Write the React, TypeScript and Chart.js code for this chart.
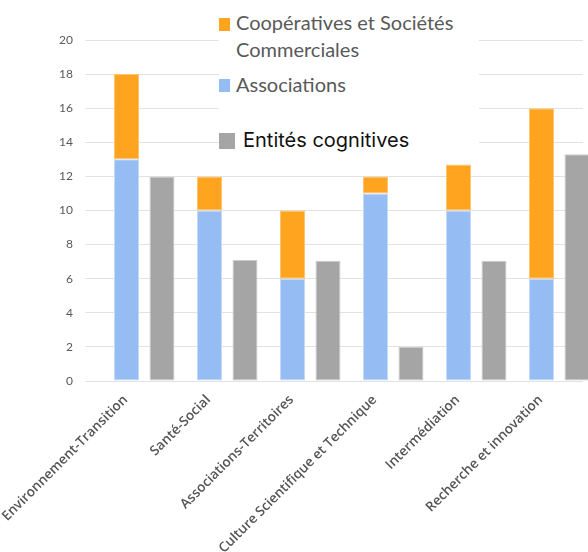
import React, { useEffect, useRef } from "react";
import { Chart, registerables } from "chart.js";

Chart.register(...registerables);

const categories = [
  "Environnement-Transition",
  "Santé-Social",
  "Associations-Territoires",
  "Culture Scientifique et Technique",
  "Intermédiation",
  "Recherche et innovation",
];
const associations = [13, 10, 6, 11, 10, 6];
const cooperatives = [5, 2, 4, 1, 2.7, 10];
const entitesCognitives = [12, 7.1, 7.05, 2, 7.05, 13.3];
const spacer = [0, 0, 0, 0, 0, 0];
const yTicks = [0, 2, 4, 6, 8, 10, 12, 14, 16, 18, 20];

const W = 588;
const H = 552;

export default function App() {
  const ref = useRef<HTMLCanvasElement | null>(null);

  useEffect(() => {
    document.body.style.margin = "0";
    const canvas = ref.current;
    if (!canvas) return;
    const chart = new Chart(canvas, {
      type: "bar",
      data: {
        labels: categories,
        datasets: [
          {
            label: "spacer",
            data: spacer,
            stack: "s",
            backgroundColor: "rgba(0,0,0,0)",
            borderWidth: 0,
          },
          {
            label: "Associations",
            data: associations,
            stack: "a",
            backgroundColor: "#95bdf3",
            borderColor: "#c3daf9",
            borderWidth: 1,
            borderSkipped: false,
          },
          {
            label: "Coopératives et Sociétés Commerciales",
            data: cooperatives,
            stack: "a",
            backgroundColor: "#ffa41f",
            borderColor: "#ffc46e",
            borderWidth: 1,
            borderSkipped: false,
          },
          {
            label: "Entités cognitives",
            data: entitesCognitives,
            stack: "g",
            backgroundColor: "#a5a5a5",
            borderColor: "#cbcbcb",
            borderWidth: 1,
            borderSkipped: false,
            clip: false as any,
          },
        ],
      },
      options: {
        responsive: false,
        animation: false,
        devicePixelRatio: 1,
        layout: { padding: { top: 40, right: 5, left: 0, bottom: 0 } },
        datasets: {
          bar: {
            categoryPercentage: 1.283,
            barPercentage: 0.704,
          },
        },
        plugins: {
          legend: { display: false },
          tooltip: { enabled: false },
        },
        scales: {
          x: {
            stacked: true,
            grid: { display: false },
            border: { display: false },
            ticks: {
              autoSkip: false,
              minRotation: 45,
              maxRotation: 45,
              padding: 3,
              labelOffset: -1,
              color: "#555555",
              font: { family: "'Open Sans'", size: 13.5, weight: 600 },
            },
            afterFit: (scale: any) => {
              scale.height = H - 381;
              scale.paddingLeft = 0;
              scale.paddingRight = 0;
            },
          },
          y: {
            stacked: true,
            min: 0,
            max: 20,
            afterBuildTicks: (scale: any) => {
              scale.ticks = yTicks.map((v) => ({ value: v }));
            },
            grid: { color: "#e2e2e2", lineWidth: 1, drawTicks: false },
            border: { display: false },
            ticks: {
              padding: 12,
              color: "#595959",
              font: { family: "Lato", size: 12 },
            },
            afterFit: (scale: any) => {
              scale.width = 85;
            },
          },
        },
      },
    });
    return () => chart.destroy();
  }, []);

  const sq = (left: number, top: number, w: number, h: number, color: string): React.CSSProperties => ({
    position: "absolute",
    left,
    top,
    width: w,
    height: h,
    background: color,
  });

  const legendText: React.CSSProperties = {
    position: "absolute",
    fontFamily: "Lato, sans-serif",
    fontSize: 20,
    lineHeight: "27px",
    color: "#595959",
    whiteSpace: "nowrap",
  };

  return (
    <div style={{ position: "relative", width: W, height: H, overflow: "hidden", background: "#fff" }}>
      <canvas ref={ref} width={W} height={H} style={{ display: "block" }} />
      <div style={{ position: "absolute", left: 219, top: 0, width: 260, height: 160, background: "#fff" }}>
        <div style={sq(0, 18, 11, 13, "#ffa41f")} />
        <div style={{ ...legendText, left: 17, top: 9 }}>
          Coopératives et Sociétés
          <br />
          Commerciales
        </div>
        <div style={sq(0, 79, 11, 13, "#95bdf3")} />
        <div style={{ ...legendText, left: 17, top: 71 }}>Associations</div>
        <div style={sq(0, 133, 16, 16, "#a5a5a5")} />
        <div
          style={{
            position: "absolute",
            left: 24,
            top: 128,
            fontFamily: "Inter, sans-serif",
            fontSize: 20,
            lineHeight: "24px",
            color: "#111",
            whiteSpace: "nowrap",
          }}
        >
          Entités cognitives
        </div>
      </div>
    </div>
  );
}
